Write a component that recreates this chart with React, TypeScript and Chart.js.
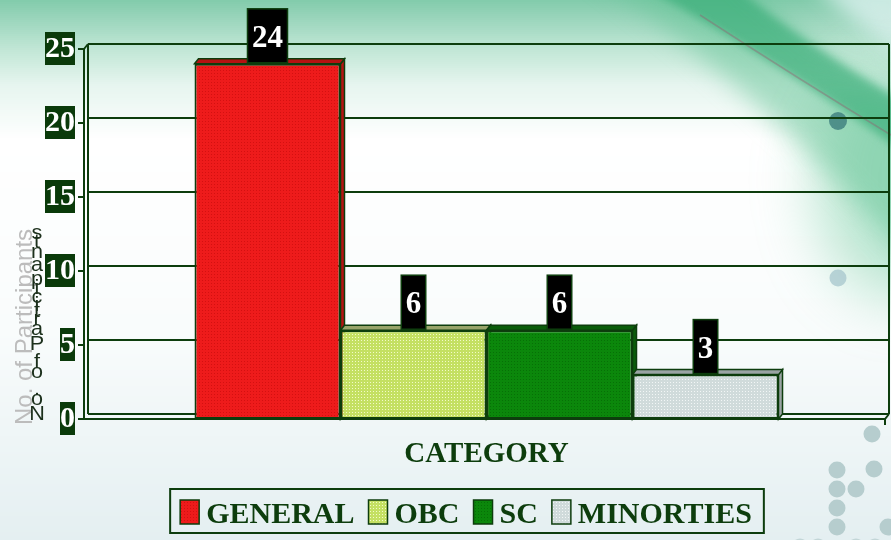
import React, { useEffect, useRef } from 'react';
import { Chart, registerables } from 'chart.js';

Chart.register(...registerables);

// ---- data ----
const categories = [''];
const seriesNames = ['GENERAL', 'OBC', 'SC', 'MINORTIES'];
const seriesValues = [24, 6, 6, 3];
const yTickValues = [0, 5, 10, 15, 20, 25];
const xTitle = 'CATEGORY';
const yTitle = 'No. of Participants';

// ---- styles ----
const baseColors = ['#ee1b1b', '#c4e062', '#0b870b', '#d0dbdb'];
const dotColors = ['#d41010', '#f2fac8', '#067006', '#f2f6f6'];
const sideColors = ['#b51212', '#98a46a', '#0a5c0a', '#9aa4a4'];
const DARK = '#0d3d0d';
const SERIF = '"Liberation Serif", "Times New Roman", serif';
const SANS = '"Liberation Sans", Arial, sans-serif';
const DX = 4;
const DY = 5;
const W = 891;
const H = 540;

// background vertical colour stops: [y, r, g, b]
const bgStops: [number, number, number, number][] = [
  [0, 130, 203, 171],
  [20, 156, 214, 189],
  [50, 194, 231, 214],
  [85, 230, 245, 239],
  [140, 255, 255, 255],
  [330, 249, 252, 252],
  [540, 228, 239, 241],
];

const dots: [number, number, number, string][] = [
  [838, 121, 9, 'rgba(60,125,125,0.8)'],
  [838, 278, 8.5, 'rgba(165,198,204,0.75)'],
  [872, 434, 8.5, '#b6cdce'],
  [837, 470, 8.5, '#b6cdce'],
  [874, 469, 8.5, '#b6cdce'],
  [837, 489, 8.5, '#b6cdce'],
  [856, 489, 8.5, '#b6cdce'],
  [837, 508, 8.5, '#b6cdce'],
  [837, 527, 8.5, '#b6cdce'],
  [888, 527, 8.5, '#b6cdce'],
  [800, 547, 8.5, '#c3d6d7'],
  [818, 547, 8.5, '#c3d6d7'],
  [856, 547, 8.5, '#c3d6d7'],
  [875, 547, 8.5, '#c3d6d7'],
];

function bgColorAt(y: number) {
  for (let i = 0; i < bgStops.length - 1; i++) {
    const a = bgStops[i];
    const b = bgStops[i + 1];
    if (y >= a[0] && y <= b[0]) {
      const t = (y - a[0]) / (b[0] - a[0]);
      const r = Math.round(a[1] + (b[1] - a[1]) * t);
      const g = Math.round(a[2] + (b[2] - a[2]) * t);
      const bl = Math.round(a[3] + (b[3] - a[3]) * t);
      return `rgb(${r},${g},${bl})`;
    }
  }
  const l = bgStops[bgStops.length - 1];
  return `rgb(${l[1]},${l[2]},${l[3]})`;
}

function paintBackground(canvas: HTMLCanvasElement) {
  const ctx = canvas.getContext('2d')!;
  for (let y = 0; y < H; y += 2) {
    ctx.fillStyle = bgColorAt(y + 1);
    ctx.fillRect(0, y, W, 2);
  }
  const off = document.createElement('canvas');
  off.width = W;
  off.height = H;
  const o = off.getContext('2d')!;
  o.filter = 'blur(30px)';
  o.fillStyle = 'rgba(100,200,150,0.45)';
  o.beginPath();
  o.ellipse(905, 180, 90, 120, 0, 0, Math.PI * 2);
  o.fill();
  o.filter = 'blur(12px)';
  o.fillStyle = 'rgba(100,195,150,0.5)';
  o.beginPath();
  o.moveTo(590, -30);
  o.quadraticCurveTo(780, 110, 910, 260);
  o.lineTo(910, 110);
  o.quadraticCurveTo(800, 40, 730, -30);
  o.closePath();
  o.fill();
  o.filter = 'blur(4px)';
  o.fillStyle = 'rgba(50,170,115,0.6)';
  o.beginPath();
  o.moveTo(650, -10);
  o.quadraticCurveTo(790, 70, 900, 150);
  o.lineTo(900, 100);
  o.quadraticCurveTo(800, 40, 740, -10);
  o.closePath();
  o.fill();
  o.filter = 'blur(10px)';
  o.fillStyle = 'rgba(215,238,235,0.85)';
  o.beginPath();
  o.moveTo(810, -20);
  o.quadraticCurveTo(860, 30, 910, 60);
  o.lineTo(910, -20);
  o.closePath();
  o.fill();
  o.filter = 'none';
  ctx.drawImage(off, 0, 0);
  ctx.strokeStyle = 'rgba(150,90,110,0.4)';
  ctx.lineWidth = 1.5;
  ctx.beginPath();
  ctx.moveTo(700, 15);
  ctx.quadraticCurveTo(800, 80, 891, 135);
  ctx.stroke();
  dots.forEach(([x, y, r, c]) => {
    ctx.fillStyle = c;
    ctx.beginPath();
    ctx.arc(x, y, r, 0, Math.PI * 2);
    ctx.fill();
  });
}

const framePlugin = {
  id: 'frame',
  beforeDatasetsDraw(chart: any) {
    const { ctx, chartArea } = chart;
    const ys = chart.scales.y;
    const { left, right, top, bottom } = chartArea;
    ctx.save();
    ctx.strokeStyle = DARK;
    ctx.lineWidth = 2;
    yTickValues.forEach((v) => {
      const y = Math.round(ys.getPixelForValue(v) - DY);
      ctx.beginPath();
      ctx.moveTo(left + DX, y);
      ctx.lineTo(right, y);
      ctx.stroke();
    });
    ctx.beginPath();
    ctx.moveTo(left + DX, top - DY);
    ctx.lineTo(left + DX, bottom - DY);
    ctx.moveTo(right, top - DY);
    ctx.lineTo(right, bottom - DY);
    ctx.stroke();
    ctx.beginPath();
    ctx.moveTo(left, top);
    ctx.lineTo(left, bottom);
    ctx.moveTo(left, top);
    ctx.lineTo(left + DX, top - DY);
    ctx.moveTo(left, bottom);
    ctx.lineTo(right - DX, bottom);
    ctx.lineTo(right, bottom - DY);
    ctx.moveTo(right - DX, bottom);
    ctx.lineTo(right - DX, bottom + 6);
    ctx.stroke();
    yTickValues.forEach((v) => {
      const y = ys.getPixelForValue(v);
      ctx.beginPath();
      ctx.moveTo(left - 6, y);
      ctx.lineTo(left, y);
      ctx.stroke();
    });

    // y axis title (gray) and the stacked dark letters
    ctx.font = `24px ${SANS}`;
    ctx.fillStyle = '#bcbcbc';
    ctx.save();
    ctx.translate(32, 425);
    ctx.rotate(-Math.PI / 2);
    ctx.textAlign = 'left';
    ctx.textBaseline = 'alphabetic';
    ctx.fillText(yTitle, 0, 0);
    ctx.restore();
    let offs = 0;
    const chars = Array.from(yTitle);
    const widths = chars.map((ch) => ctx.measureText(ch).width);
    ctx.fillStyle = '#1c301c';
    chars.forEach((ch, i) => {
      const cy = 423 - offs - widths[i] / 2;
      offs += widths[i];
      if (!ch.trim()) return;
      ctx.save();
      ctx.translate(37, cy);
      ctx.scale(0.9, 0.85);
      ctx.font = `24px ${SANS}`;
      ctx.textAlign = 'center';
      ctx.textBaseline = 'middle';
      ctx.fillText(ch, 0, 0);
      ctx.restore();
    });

    // 3D faces of bars
    chart.data.datasets.forEach((ds: any, i: number) => {
      const meta = chart.getDatasetMeta(i);
      meta.data.forEach((bar: any) => {
        const { x, y, base, width } = bar.getProps(['x', 'y', 'base', 'width'], true);
        const x0 = x - width / 2;
        const x1 = x + width / 2;
        ctx.fillStyle = sideColors[i];
        ctx.strokeStyle = DARK;
        ctx.lineWidth = 1.5;
        ctx.beginPath();
        ctx.moveTo(x1, y);
        ctx.lineTo(x1 + DX, y - DY);
        ctx.lineTo(x1 + DX, base - DY);
        ctx.lineTo(x1, base);
        ctx.closePath();
        ctx.fill();
        ctx.stroke();
        ctx.beginPath();
        ctx.moveTo(x0, y);
        ctx.lineTo(x0 + DX, y - DY);
        ctx.lineTo(x1 + DX, y - DY);
        ctx.lineTo(x1, y);
        ctx.closePath();
        ctx.fill();
        ctx.stroke();
      });
    });
    ctx.restore();
  },
};

const labelPlugin = {
  id: 'labels',
  afterDatasetsDraw(chart: any) {
    const { ctx } = chart;
    ctx.save();
    ctx.font = `bold 31px ${SERIF}`;
    chart.data.datasets.forEach((ds: any, i: number) => {
      const meta = chart.getDatasetMeta(i);
      meta.data.forEach((bar: any, j: number) => {
        const { x, y } = bar.getProps(['x', 'y'], true);
        const text = String(ds.data[j]);
        const tw = ctx.measureText(text).width;
        const bw = tw + 9;
        const bh = 54;
        const bottom = y - 1;
        const top = bottom - bh;
        ctx.fillStyle = '#000000';
        ctx.fillRect(x - bw / 2, top, bw, bh);
        ctx.strokeStyle = DARK;
        ctx.lineWidth = 1.5;
        ctx.strokeRect(x - bw / 2, top, bw, bh);
        ctx.fillStyle = '#ffffff';
        ctx.textAlign = 'center';
        ctx.textBaseline = 'middle';
        ctx.fillText(text, x, top + bh / 2 + 3);
      });
    });
    ctx.restore();
  },
  afterDraw(chart: any) {
    const { ctx } = chart;
    ctx.save();
    ctx.font = `bold 30px ${SERIF}`;
    const sq = 19;
    const gapText = 7;
    const gapItem = 14;
    const items = chart.data.datasets.map((ds: any) => ({
      label: ds.label,
      color: ds.backgroundColor,
      w: ctx.measureText(ds.label).width,
    }));
    const total = items.reduce((a: number, it: any) => a + sq + gapText + it.w, 0) + gapItem * (items.length - 1);
    const cx = 466;
    let x = cx - total / 2;
    const boxL = x - 10;
    const boxR = x + total + 12;
    ctx.strokeStyle = DARK;
    ctx.lineWidth = 2;
    ctx.strokeRect(boxL, 489, boxR - boxL, 44);
    items.forEach((it: any) => {
      ctx.fillStyle = it.color;
      ctx.fillRect(x, 500, sq, 24);
      ctx.lineWidth = 1.5;
      ctx.strokeStyle = DARK;
      ctx.strokeRect(x, 500, sq, 24);
      x += sq + gapText;
      ctx.fillStyle = DARK;
      ctx.textAlign = 'left';
      ctx.textBaseline = 'alphabetic';
      ctx.fillText(it.label, x, 523);
      x += it.w + gapItem;
    });
    ctx.restore();
  },
};

export default function App() {
  const ref = useRef<HTMLCanvasElement>(null);
  const bgRef = useRef<HTMLCanvasElement>(null);
  useEffect(() => {
    document.body.style.margin = '0';
    paintBackground(bgRef.current!);
    const canvas = ref.current!;
    const makePattern = (base: string, dot: string) => {
      const c = document.createElement('canvas');
      c.width = 3;
      c.height = 3;
      const x = c.getContext('2d')!;
      x.fillStyle = base;
      x.fillRect(0, 0, 3, 3);
      x.fillStyle = dot;
      x.fillRect(1, 1, 1, 1);
      const cx = canvas.getContext('2d')!;
      return cx.createPattern(c, 'repeat') as any;
    };
    const patterns = baseColors.map((b, i) => makePattern(b, dotColors[i]));

    const chart = new Chart(canvas, {
      type: 'bar',
      data: {
        labels: categories,
        datasets: seriesNames.map((name, i) => ({
          label: name,
          data: [seriesValues[i]],
          backgroundColor: patterns[i],
          borderColor: DARK,
          borderWidth: 2,
          borderSkipped: false,
          barPercentage: 1,
          categoryPercentage: 0.7255,
        })),
      },
      options: {
        animation: false,
        responsive: false,
        maintainAspectRatio: false,
        layout: { padding: { top: 49, right: 2, left: 0, bottom: 0 } },
        plugins: {
          legend: { display: false },
          tooltip: { enabled: false },
          title: { display: false },
        },
        scales: {
          x: {
            grid: { display: false, drawTicks: false },
            border: { display: false },
            ticks: { display: false },
            title: {
              display: true,
              text: xTitle,
              color: DARK,
              font: { family: SERIF, size: 29, weight: 'bold' },
              padding: { top: 0, bottom: 68 },
            },
            afterFit: (s: any) => {
              s.height = 121;
            },
          },
          y: {
            min: 0,
            max: 25,
            grid: { display: false, drawTicks: false },
            border: { display: false },
            afterBuildTicks: (s: any) => {
              s.ticks = yTickValues.map((v) => ({ value: v }));
            },
            ticks: {
              stepSize: 5,
              color: '#ffffff',
              padding: 9,
              font: { family: SERIF, size: 30, weight: 'bold', lineHeight: 1 },
              showLabelBackdrop: true,
              backdropColor: '#0a3a0a',
              backdropPadding: { top: 2, bottom: 1, left: 0, right: 0 },
            },
            afterFit: (s: any) => {
              s.width = 84;
            },
          },
        },
      } as any,
      plugins: [framePlugin, labelPlugin],
    });
    return () => chart.destroy();
  }, []);
  return (
    <div style={{ width: W, height: H, position: 'relative' }}>
      <canvas ref={bgRef} width={W} height={H} style={{ position: 'absolute', left: 0, top: 0, display: 'block' }} />
      <canvas ref={ref} width={W} height={H} style={{ position: 'absolute', left: 0, top: 0, display: 'block' }} />
    </div>
  );
}
